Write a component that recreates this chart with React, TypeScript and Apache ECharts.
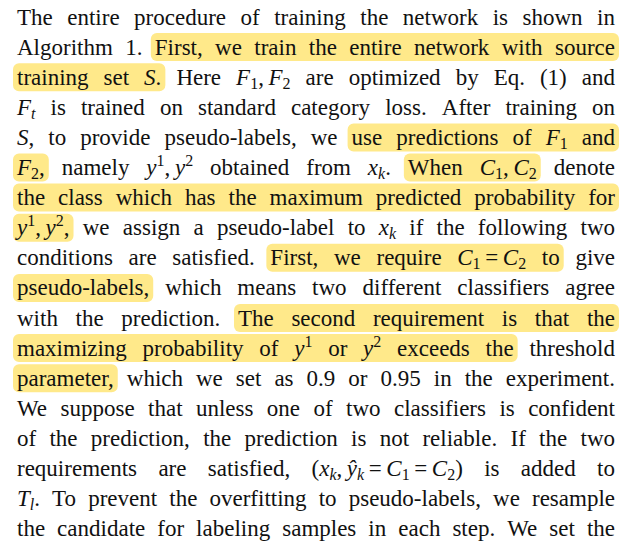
import React, { useEffect, useRef } from "react";
import * as echarts from "echarts";

// $..$ italic, _x subscript, ^x superscript; \u2009 thin space inside math
const lines: string[] = [
  "The entire procedure of training the network is shown in",
  "Algorithm 1. First, we train the entire network with source",
  "training set $S$. Here $F$_1,\u2009$F$_2 are optimized by Eq. (1) and",
  "$F$_t is trained on standard category loss. After training on",
  "$S$, to provide pseudo-labels, we use predictions of $F$_1 and",
  "$F$_2, namely $y$^1,\u2009$y$^2 obtained from $x$_k. When $C$_1,\u2009$C$_2 denote",
  "the class which has the maximum predicted probability for",
  "$y$^1,\u2009$y$^2, we assign a pseudo-label to $x$_k if the following two",
  "conditions are satisfied. First, we require $C$_1\u2009=\u2009$C$_2 to give",
  "pseudo-labels, which means two different classifiers agree",
  "with the prediction. The second requirement is that the",
  "maximizing probability of $y$^1 or $y$^2 exceeds the threshold",
  "parameter, which we set as 0.9 or 0.95 in the experiment.",
  "We suppose that unless one of two classifiers is confident",
  "of the prediction, the prediction is not reliable. If the two",
  "requirements are satisfied, ($x$_k,\u2009$ŷ$_k\u2009=\u2009$C$_1\u2009=\u2009$C$_2) is added to",
  "$T$_l. To prevent the overfitting to pseudo-labels, we resample",
  "the candidate for labeling samples in each step. We set the",
];
// [line, firstToken, lastToken]
const highlights: [number, number, number][] = [
  [1, 2, 9], [2, 0, 2], [4, 5, 9], [5, 0, 0], [5, 6, 7], [6, 0, 8],
  [7, 0, 0], [8, 3, 7], [9, 0, 0], [10, 3, 8], [11, 0, 7], [12, 0, 0],
];

type Seg = { t: string; k: "n" | "i" | "sub" | "sup"; it: boolean };
function parse(tok: string): Seg[] {
  const out: Seg[] = [];
  let it = false;
  for (let i = 0; i < tok.length; i++) {
    const c = tok[i];
    if (c === "$") { it = !it; continue; }
    if (c === "_" || c === "^") {
      const n = tok[++i];
      out.push({ t: n, k: c === "_" ? "sub" : "sup", it: /[a-z]/.test(n) });
      continue;
    }
    const last = out[out.length - 1];
    const k = it ? "i" : "n";
    if (last && last.k === k) last.t += c;
    else out.push({ t: c, k, it });
  }
  return out;
}

const FS = 23, SS = 16, FONT = "Liberation Serif";

export default function App() {
  const ref = useRef<HTMLDivElement>(null);
  useEffect(() => {
    const chart = echarts.init(ref.current!, null, { renderer: "svg" });
    const ctx = document.createElement("canvas").getContext("2d")!;
    const fontOf = (s: Seg) => `${s.it ? "italic " : ""}${s.k === "sub" || s.k === "sup" ? SS : FS}px ${FONT}`;
    const meas = (s: Seg) => { ctx.font = fontOf(s); return ctx.measureText(s.t).width; };
    const L = 17, R = 615;
    const els: any[] = [];
    const hls: any[] = [];
    lines.forEach((line, li) => {
      const cy = 17 + li * 30.1;
      const toks = line.split(" ").map(parse);
      const widths = toks.map((t) => t.reduce((a, s) => a + meas(s), 0));
      const total = widths.reduce((a, b) => a + b, 0);
      const gap = (R - L - total) / (toks.length - 1);
      let x = L;
      const starts: number[] = [];
      toks.forEach((segs, ti) => {
        starts.push(x);
        let sx = x;
        segs.forEach((s) => {
          const dy = s.k === "sub" ? 6 : s.k === "sup" ? -7 : 0;
          els.push({
            type: "text", x: sx, y: cy + dy, silent: true, z: 10,
            style: { text: s.t, fontFamily: FONT, fontSize: s.k === "sub" || s.k === "sup" ? SS : FS, fontStyle: s.it ? "italic" : "normal", fill: "#111", verticalAlign: "middle", align: "left" },
          });
          sx += meas(s);
        });
        x += widths[ti] + gap;
      });
      highlights.filter((h) => h[0] === li).forEach(([, a, b]) => {
        const x0 = starts[a] - 4, x1 = starts[b] + widths[b] + 4;
        hls.push({
          type: "rect", z: 1, silent: true,
          shape: { x: x0, y: cy - 14, width: x1 - x0, height: 28, r: 6 },
          style: { fill: "#FFE98A" },
        });
      });
    });
    chart.setOption({ animation: false, backgroundColor: "#fff", graphic: [...hls, ...els] });
    return () => chart.dispose();
  }, []);
  return <div ref={ref} style={{ position: "fixed", left: 0, top: 0, width: 636, height: 549 }} />;
}
